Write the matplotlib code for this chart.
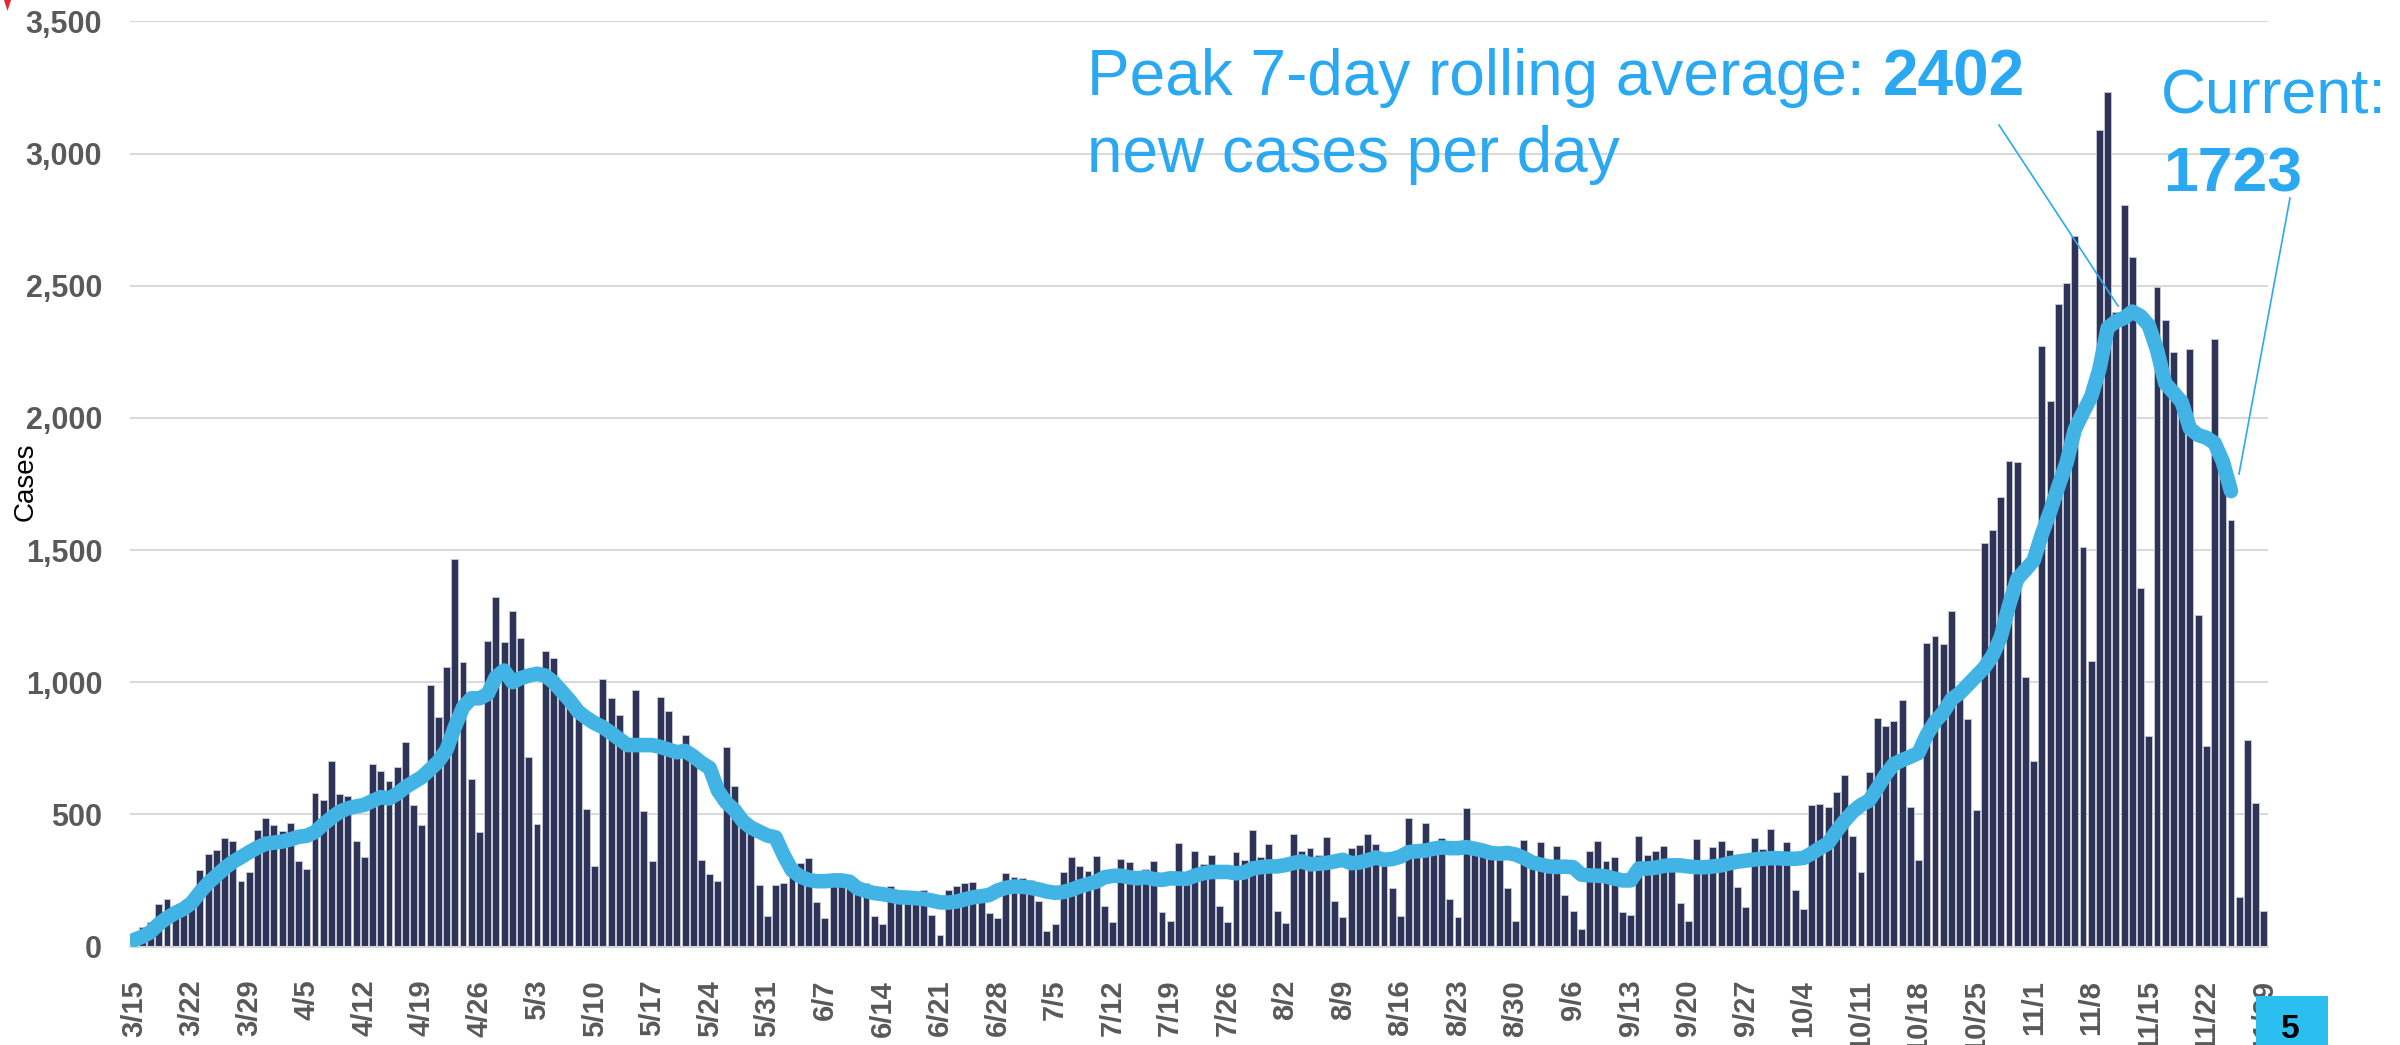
import matplotlib
matplotlib.use("Agg")
import matplotlib.pyplot as plt
from matplotlib.patches import Polygon, Rectangle
import numpy as np

plt.rcParams['font.family'] = ['Liberation Sans', 'DejaVu Sans']

# ---------------- data ----------------
daily_cases = [
    22, 74, 93, 159, 180, 153, 130, 160, 289, 350, 365, 412, 401, 247, 282, 439, 487, 458, 436, 466,
    324, 292, 582, 554, 703, 577, 569, 398, 340, 691, 664, 628, 681, 774, 534, 458, 989, 869, 1057, 1466,
    1076, 633, 433, 1155, 1322, 1151, 1270, 1168, 717, 463, 1119, 1091, 960, 940, 890, 520, 304, 1013, 939, 875,
    770, 971, 513, 324, 944, 891, 745, 802, 705, 327, 276, 248, 753, 609, 470, 440, 234, 115, 233, 242,
    285, 315, 335, 167, 108, 250, 250, 245, 220, 242, 115, 87, 230, 190, 185, 185, 215, 119, 43, 214,
    228, 240, 245, 190, 126, 107, 277, 263, 258, 250, 174, 59, 86, 282, 340, 306, 284, 342, 152, 92,
    332, 321, 260, 292, 323, 131, 95, 391, 256, 362, 312, 345, 154, 93, 357, 328, 439, 337, 389, 136,
    90, 424, 360, 374, 345, 415, 173, 112, 374, 385, 424, 389, 330, 220, 117, 487, 389, 466, 396, 410,
    181, 110, 525, 393, 360, 350, 374, 223, 97, 403, 320, 396, 300, 381, 196, 136, 68, 363, 398, 323,
    337, 129, 120, 419, 345, 360, 381, 332, 163, 97, 408, 300, 376, 398, 366, 226, 149, 410, 370, 444,
    330, 394, 212, 141, 537, 540, 527, 583, 650, 417, 283, 661, 863, 836, 852, 933, 529, 328, 1149, 1175,
    1146, 1270, 960, 860, 516, 1528, 1575, 1702, 1837, 1834, 1019, 702, 2272, 2063, 2432, 2510, 2687, 1511, 1081, 3089,
    3233, 2400, 2807, 2607, 1356, 797, 2496, 2372, 2250, 2081, 2259, 1254, 759, 2297, 1830, 1615, 186, 783, 544, 135,
]

rolling_avg = [
    25, 37, 55, 85, 108, 127, 142, 165, 205, 240, 268, 296, 320, 338, 357, 374, 389, 393, 397, 405,
    415, 419, 433, 462, 487, 510, 523, 530, 536, 551, 565, 560, 578, 603, 622, 641, 670, 700, 745, 830,
    905, 939, 939, 955, 1020, 1044, 1000, 1015, 1025, 1032, 1025, 1000, 965, 930, 889, 865, 845, 830, 808, 785,
    762, 762, 762, 762, 755, 745, 735, 740, 720, 695, 675, 590, 545, 517, 475, 450, 435, 420, 413, 345,
    288, 265, 252, 247, 247, 250, 250, 245, 220, 210, 202, 198, 193, 186, 185, 183, 180, 174, 167, 166,
    170, 178, 186, 190, 195, 212, 222, 227, 226, 222, 216, 208, 203, 206, 215, 227, 236, 245, 262, 267,
    268, 262, 258, 262, 255, 252, 258, 257, 256, 268, 277, 282, 282, 282, 277, 280, 295, 300, 303, 303,
    308, 316, 322, 311, 313, 316, 322, 328, 315, 318, 326, 337, 328, 331, 340, 357, 360, 363, 370, 375,
    372, 372, 376, 370, 363, 354, 351, 354, 348, 335, 318, 310, 303, 301, 302, 300, 272, 269, 268, 265,
    257, 250, 250, 295, 295, 298, 305, 307, 307, 303, 300, 300, 303, 307, 315, 321, 325, 329, 332, 334,
    334, 332, 332, 335, 352, 372, 390, 435, 475, 510, 535, 552, 600, 650, 690, 705, 718, 732, 800, 850,
    885, 935, 958, 990, 1022, 1055, 1100, 1170, 1290, 1390, 1425, 1460, 1560, 1645, 1740, 1830, 1955, 2020, 2080, 2185,
    2340, 2365, 2378, 2402, 2385, 2350, 2258, 2131, 2096, 2060, 1960, 1935, 1925, 1905, 1835, 1723,
]

week_labels = [
    "3/15", "3/22", "3/29", "4/5", "4/12", "4/19", "4/26", "5/3", "5/10", "5/17", "5/24", "5/31",
    "6/7", "6/14", "6/21", "6/28", "7/5", "7/12", "7/19", "7/26", "8/2", "8/9", "8/16", "8/23",
    "8/30", "9/6", "9/13", "9/20", "9/27", "10/4", "10/11", "10/18", "10/25", "11/1", "11/8",
    "11/15", "11/22", "11/29",
]

y_ticks = [0, 500, 1000, 1500, 2000, 2500, 3000, 3500]
y_tick_labels = ["0", "500", "1,000", "1,500", "2,000", "2,500", "3,000", "3,500"]

peak_text = "Peak 7-day rolling average:"
peak_value = "2402"
peak_text2 = "new cases per day"
current_text = "Current:"
current_value = "1723"
page_number = "5"

# ---------------- style ----------------
W, H = 2400, 1045
BAR_COLOR = "#2E3358"
BAR_EDGE = "#C3C6D0"
LINE_COLOR = "#41B4E5"
TEXT_BLUE = "#2AA9F2"
GRID = "#D9D9D9"
TICK_GRAY = "#595959"

fig = plt.figure(figsize=(W / 100, H / 100), dpi=100)
ax = fig.add_axes([130 / W, 1 - 946.5 / H, (2268 - 130) / W, (946.5 - 21.4) / H])

x_bars = np.arange(len(daily_cases))
ax.bar(x_bars, daily_cases, width=0.84, color=BAR_COLOR, edgecolor=BAR_EDGE,
       linewidth=0.7, zorder=2)

x_line = np.arange(len(rolling_avg))
ax.plot(x_line, rolling_avg, color=LINE_COLOR, linewidth=10.5,
        solid_capstyle="round", solid_joinstyle="round", zorder=3)

ax.set_xlim(-0.5, len(daily_cases) - 0.5)
ax.set_ylim(0, 3500)
ax.set_yticks(y_ticks)
ax.set_yticklabels(y_tick_labels)
ax.set_xticks(np.arange(0, len(daily_cases), 7))
ax.set_xticklabels(week_labels, rotation=90)

for lab in ax.get_yticklabels():
    lab.set_fontsize(22)
    lab.set_fontweight("bold")
    lab.set_color(TICK_GRAY)
for lab in ax.get_xticklabels():
    lab.set_fontsize(21)
    lab.set_fontweight("bold")
    lab.set_color(TICK_GRAY)
    lab.set_va("top")

ax.tick_params(axis="y", length=0, pad=20)
ax.tick_params(axis="x", length=0, pad=24)

ax.grid(axis="y", color=GRID, linewidth=1.5, zorder=0)
ax.set_axisbelow(True)
for s in ["top", "right", "left"]:
    ax.spines[s].set_visible(False)
ax.spines["bottom"].set_color(GRID)
ax.spines["bottom"].set_linewidth(1.5)

# y label
fig.text(26 / W, 1 - 482 / H, "Cases", rotation=90, fontsize=20, color="black",
         ha="center", va="center")

# annotations
t1 = fig.text(1087 / W, 1 - 95 / H, peak_text, fontsize=46, color=TEXT_BLUE,
              ha="left", va="baseline")
fig.text(1087 / W, 1 - 172 / H, peak_text2, fontsize=46, color=TEXT_BLUE,
         ha="left", va="baseline")
fig.canvas.draw()
bb = t1.get_window_extent()
fig.text((bb.x1 + 18) / W, 1 - 95 / H, peak_value, fontsize=46, color=TEXT_BLUE,
         fontweight="bold", ha="left", va="baseline")

fig.text(2161 / W, 1 - 113 / H, current_text, fontsize=45, color=TEXT_BLUE,
         ha="left", va="baseline")
fig.text(2163 / W, 1 - 192 / H, current_value, fontsize=45, color=TEXT_BLUE,
         fontweight="bold", ha="left", va="baseline")

# leader lines (figure pixel coords)
fig.add_artist(plt.Line2D([1999 / W, 2118 / W], [1 - 125 / H, 1 - 306 / H],
                          color=TEXT_BLUE, linewidth=1.2))
fig.add_artist(plt.Line2D([2290 / W, 2239 / W], [1 - 198 / H, 1 - 474 / H],
                          color=TEXT_BLUE, linewidth=1.2))

# page number box
fig.add_artist(Rectangle((2256 / W, 0), 72 / W, 49 / H, transform=fig.transFigure,
                         facecolor="#2BBFF0", edgecolor="none", zorder=5))
fig.text(2290 / W, 1 - 1029 / H, page_number, fontsize=24, fontweight="bold",
         color="black", ha="center", va="center", zorder=6)

# small red mark top-left
fig.add_artist(Polygon([(4 / W, 1.0), (11 / W, 1.0), (7.5 / W, 1 - 11 / H)],
                       closed=True, transform=fig.transFigure, facecolor="#E8262E",
                       edgecolor="none"))

fig.savefig("out.png", dpi=100)
